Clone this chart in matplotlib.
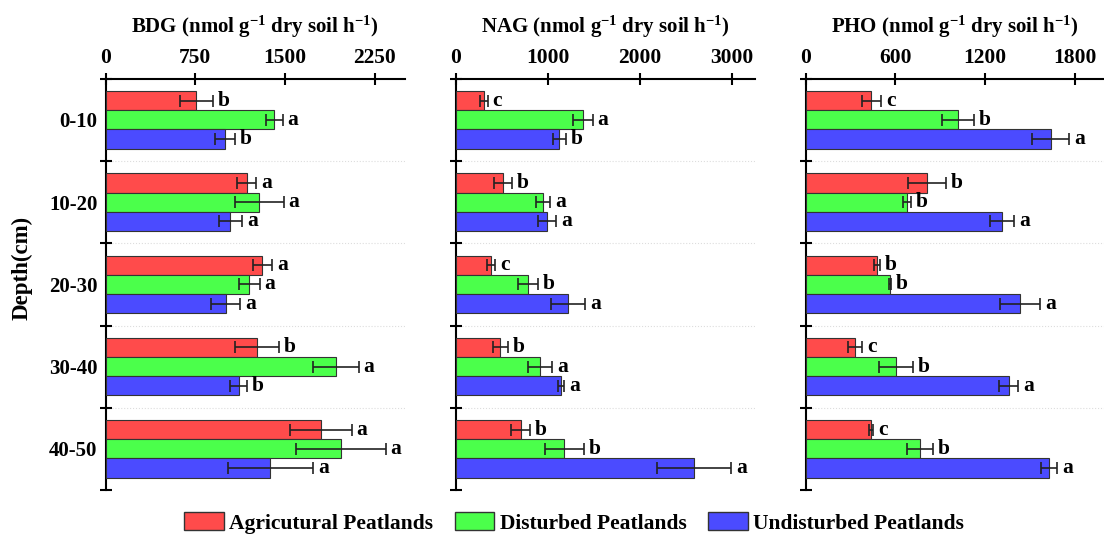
import matplotlib
matplotlib.use('Agg')
from matplotlib import pyplot as plt
from matplotlib.patches import Patch
import numpy as np

plt.rcParams['font.family'] = ['Liberation Serif', 'DejaVu Serif']
plt.rcParams['font.weight'] = 'bold'
plt.rcParams['mathtext.fontset'] = 'custom'
plt.rcParams['mathtext.rm'] = 'Liberation Serif:bold'
plt.rcParams['mathtext.default'] = 'rm'

depths = ['0-10', '10-20', '20-30', '30-40', '40-50']
groups = ['Agricutural Peatlands', 'Disturbed Peatlands', 'Undisturbed Peatlands']
colors = ['#ff4b4b', '#4bff4b', '#4b4bff']

# BDG
bdg_agr = [758, 1180, 1311, 1266, 1800]
bdg_agr_err = [139, 78, 80, 186, 258]
bdg_agr_sig = ['b', 'a', 'a', 'b', 'a']
bdg_dis = [1411, 1283, 1200, 1925, 1966]
bdg_dis_err = [69, 205, 89, 192, 375]
bdg_dis_sig = ['a', 'a', 'a', 'a', 'a']
bdg_und = [997, 1044, 1005, 1111, 1377]
bdg_und_err = [86, 97, 120, 67, 358]
bdg_und_sig = ['b', 'a', 'a', 'b', 'a']

# NAG
nag_agr = [305, 516, 385, 483, 705]
nag_agr_err = [44, 98, 44, 80, 105]
nag_agr_sig = ['c', 'b', 'c', 'b', 'b']
nag_dis = [1381, 948, 788, 916, 1181]
nag_dis_err = [109, 80, 109, 134, 211]
nag_dis_sig = ['a', 'a', 'b', 'a', 'b']
nag_und = [1127, 996, 1221, 1148, 2590]
nag_und_err = [73, 98, 189, 33, 407]
nag_und_sig = ['b', 'a', 'a', 'a', 'a']

# PHO
pho_agr = [440, 811, 476, 329, 438]
pho_agr_err = [65, 125, 22, 47, 15]
pho_agr_sig = ['c', 'b', 'b', 'c', 'c']
pho_dis = [1019, 677, 563, 603, 764]
pho_dis_err = [105, 29, 9, 114, 87]
pho_dis_sig = ['b', 'b', 'b', 'b', 'b']
pho_und = [1638, 1316, 1433, 1359, 1627]
pho_und_err = [123, 80, 136, 63, 56]
pho_und_sig = ['a', 'a', 'a', 'a', 'a']

panels = [
    ('BDG', [bdg_agr, bdg_dis, bdg_und], [bdg_agr_err, bdg_dis_err, bdg_und_err],
     [bdg_agr_sig, bdg_dis_sig, bdg_und_sig], [0, 750, 1500, 2250], 2500),
    ('NAG', [nag_agr, nag_dis, nag_und], [nag_agr_err, nag_dis_err, nag_und_err],
     [nag_agr_sig, nag_dis_sig, nag_und_sig], [0, 1000, 2000, 3000], 3250),
    ('PHO', [pho_agr, pho_dis, pho_und], [pho_agr_err, pho_dis_err, pho_und_err],
     [pho_agr_sig, pho_dis_sig, pho_und_sig], [0, 600, 1200, 1800], 2000),
]

fig = plt.figure(figsize=(11.04, 5.39), dpi=100)
lefts = [0.0957, 0.4128, 0.7298]
bottom, height, width = 0.0909, 0.763, 0.2708
h = 0.233
y = np.arange(len(depths))

for k, (name, vals, errs, sigs, ticks, xmax) in enumerate(panels):
    ax = fig.add_axes([lefts[k], bottom, width, height])
    for i in range(3):
        pos = y + (i - 1) * h
        ax.barh(pos, vals[i], height=h, color=colors[i], edgecolor='#333333', linewidth=0.8,
                xerr=errs[i], error_kw=dict(ecolor='#222222', elinewidth=1.2, capsize=4.5, capthick=1.2),
                zorder=3)
        for j in range(len(depths)):
            ax.annotate(sigs[i][j], (vals[i][j] + errs[i][j], pos[j]), xytext=(3.5, 0),
                        textcoords='offset points', ha='left', va='center',
                        fontsize=15.5, fontweight='bold')
    for b in [0.5, 1.5, 2.5, 3.5]:
        ax.axhline(b, color='#dddddd', ls=':', lw=0.8, zorder=1)
    ax.set_xlim(0, xmax)
    ax.set_ylim(4.5, -0.5)
    ax.xaxis.tick_top()
    ax.set_xticks(ticks)
    ax.tick_params(axis='x', direction='inout', length=8, width=1.5, pad=4, labelsize=15.5)
    ax.set_yticks(y)
    ax.set_yticks(np.arange(-0.5, 5, 1), minor=True)
    ax.tick_params(axis='y', which='major', length=0, pad=6, labelsize=15)
    ax.tick_params(axis='y', which='minor', direction='inout', length=8, width=1.5)
    if k == 0:
        ax.set_yticklabels(depths)
    else:
        ax.set_yticklabels([])
    for s in ['bottom', 'right']:
        ax.spines[s].set_visible(False)
    for s in ['top', 'left']:
        ax.spines[s].set_linewidth(1.5)
    ax.text(0.5, 1.125, name + ' (nmol g$^{-1}$ dry soil h$^{-1}$)', transform=ax.transAxes,
            ha='center', va='center', fontsize=15, fontweight='bold')

fig.text(0.02, 1 - 268 / 539, 'Depth(cm)', rotation=90, ha='center', va='center',
         fontsize=16.5, fontweight='bold')

handles = [Patch(facecolor=colors[i], edgecolor='#333333', label=groups[i]) for i in range(3)]
fig.legend(handles=handles, loc='center', bbox_to_anchor=(0.52, 0.03), ncol=3, frameon=False,
           fontsize=15.5, handlelength=1.85, handleheight=0.93, columnspacing=1.0, handletextpad=0.25)

plt.savefig('out.png', dpi=100)
